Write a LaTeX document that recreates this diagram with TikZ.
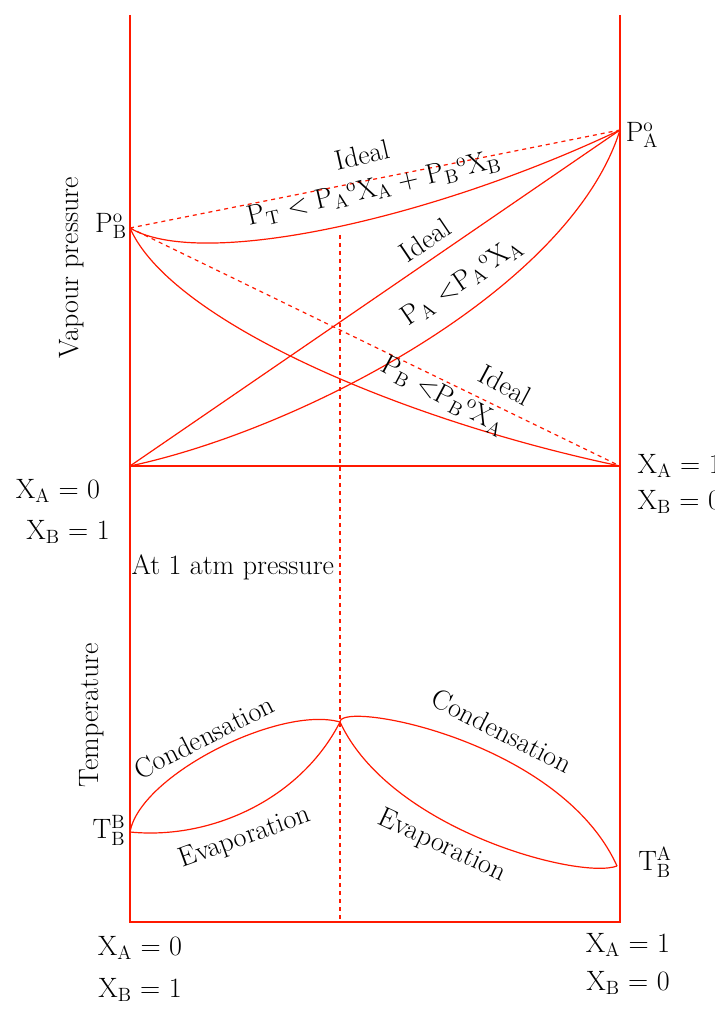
\documentclass[tikz,border=0pt]{standalone}
\begin{document}
\begin{tikzpicture}[x=0.75pt,y=-0.75pt,
  ln/.style={draw=red!80!orange, line width=0.9pt},
  dl/.style={ln, dashed},
  txt/.style={font=\fontsize{21}{25}\selectfont, inner sep=1pt}]
\useasboundingbox (0,0) rectangle (714,1012);
\coordinate (tl) at (130,15); \coordinate (tr) at (620,15);
\coordinate (bl) at (130,922); \coordinate (br) at (620,922);
\coordinate (ml) at (130,466); \coordinate (mr) at (620,466);
\coordinate (PB) at (130,228); \coordinate (PA) at (620,130);
\coordinate (mt) at (340,235); \coordinate (mb) at (340,922);
\coordinate (TB) at (130,832); \coordinate (TA) at (617,866);
\coordinate (peak) at (340,722);
\draw[ln] (tl) -- (bl) -- (br) -- (tr);
\draw[ln] (ml) -- (mr);
\draw[dl] (PB) -- (PA);
\draw[dl] (PB) -- (mr);
\draw[dl] (mt) -- (mb);
\draw[ln] (ml) -- (PA);
\draw[ln] (ml) .. controls (300,430) and (570,290) .. (PA);
\draw[ln] (PB) .. controls (170,320) and (400,420) .. (mr);
\draw[ln] (PB) .. controls (200,270) and (430,220) .. (PA);
% bottom lenses
\draw[ln] (TB) .. controls (140,775) and (280,705) .. (peak);
\draw[ln] (TB) .. controls (210,840) and (300,800) .. (peak);
\draw[ln] (peak) .. controls (340,700) and (560,740) .. (TA);
\draw[ln] (peak) .. controls (390,830) and (580,880) .. (TA);
% labels
\node[txt] (pa) at (642,135) {P$_{\mathrm A}^{\mathrm o}$};
\node[txt] (pb) at (111,226) {P$_{\mathrm B}^{\mathrm o}$};
\node[txt, rotate=90] (vp) at (72,268) {Vapour pressure};
\node[txt, rotate=90] (tp) at (92,715) {Temperature};
\node[txt] (l1) at (58,491) {X$_{\mathrm A}$ = 0};
\node[txt] (l2) at (68,532) {X$_{\mathrm B}$ = 1};
\node[txt, anchor=west] (r1) at (636,466) {X$_{\mathrm A}$ = 1};
\node[txt, anchor=west] (r2) at (636,502) {X$_{\mathrm B}$ = 0};
\node[txt, anchor=west] (atm) at (130,567) {At 1 atm pressure};
\node[txt] (b1) at (140,948) {X$_{\mathrm A}$ = 0};
\node[txt] (b2) at (140,990) {X$_{\mathrm B}$ = 1};
\node[txt] (b3) at (628,945) {X$_{\mathrm A}$ = 1};
\node[txt] (b4) at (628,983) {X$_{\mathrm B}$ = 0};
\node[txt] (tbb) at (109,830) {T$_{\mathrm B}^{\mathrm B}$};
\node[txt] (tba) at (655,862) {T$_{\mathrm B}^{\mathrm A}$};
\node[txt, rotate=13] (i1) at (362,155) {Ideal};
\node[txt, rotate=13] (e1) at (374,189) {P$_{\mathrm T}$ $<$ P$_{\mathrm A}$$^{\mathrm o}$X$_{\mathrm A}$ + P$_{\mathrm B}$$^{\mathrm o}$X$_{\mathrm B}$};
\node[txt, rotate=34] (i2) at (425,240) {Ideal};
\node[txt, rotate=34] (e2) at (462,282) {P$_{\mathrm A}$ $<$P$_{\mathrm A}$$^{\mathrm o}$X$_{\mathrm A}$};
\node[txt, rotate=-28] (i3) at (505,385) {Ideal};
\node[txt, rotate=-28] (e3) at (443,396) {P$_{\mathrm B}$ $<$P$_{\mathrm B}$$^{\mathrm o}$X$_{\mathrm A}$};
\node[txt, rotate=27] (c1) at (204,737) {Condensation};
\node[txt, rotate=20] (ev1) at (245,838) {Evaporation};
\node[txt, rotate=-27] (c2) at (502,731) {Condensation};
\node[txt, rotate=-25] (ev2) at (442,846) {Evaporation};
\end{tikzpicture}
\end{document}
